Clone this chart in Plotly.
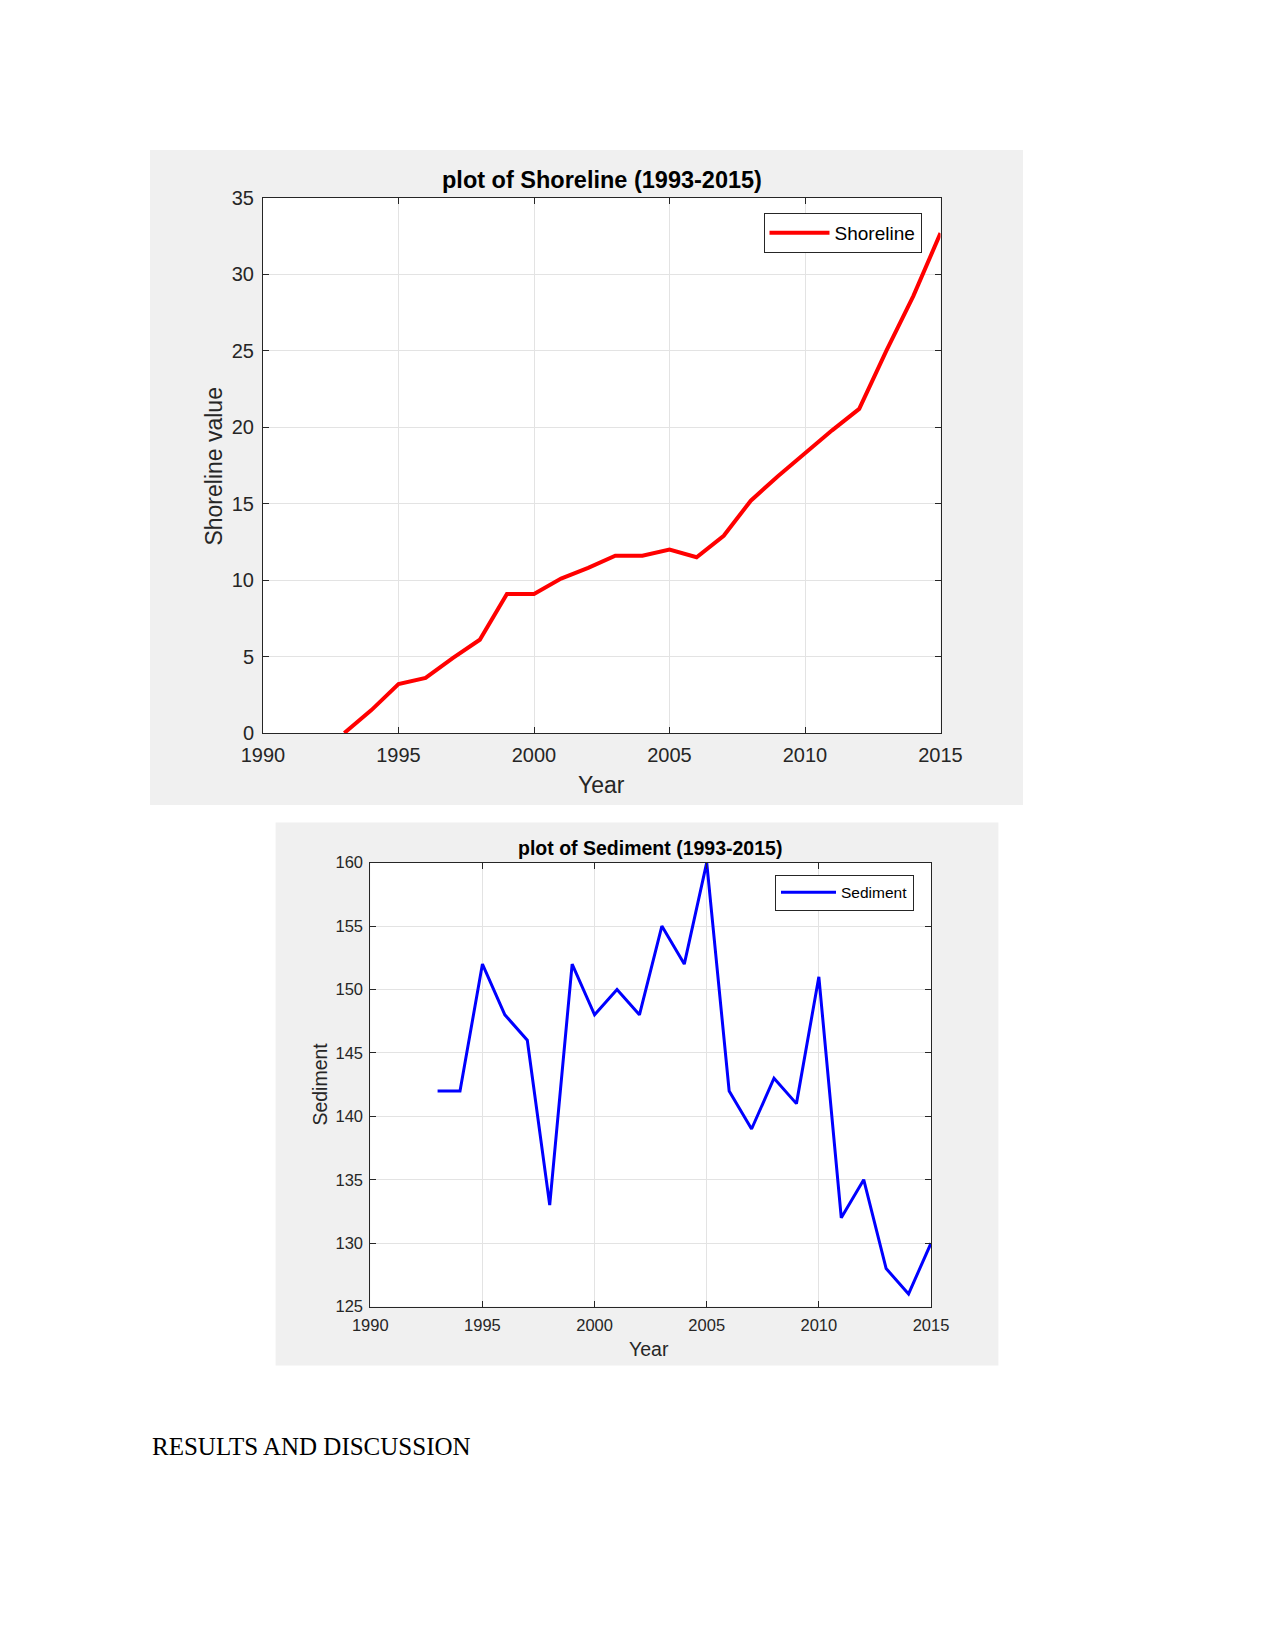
import plotly.graph_objects as go

years = list(range(1993, 2016))
shoreline = [0, 1.5, 3.2, 3.6, 4.9, 6.1, 9.1, 9.1, 10.1, 10.8, 11.6, 11.6, 12.0,
             11.5, 12.9, 15.2, 16.8, 18.3, 19.8, 21.2, 25.0, 28.6, 32.7]
sediment = [142, 142, 152, 148, 146, 133, 152, 148, 150, 148, 155, 152, 160,
            142, 139, 143, 141, 151, 132, 135, 128, 126, 130]

W, H = 1275, 1650
OFF = 8  # page body margin
FONT = "Liberation Sans"
TXT = "#262626"


def px(x):
    return (x - OFF) / W


def py(y):
    return 1 - (y - OFF) / H


fig = go.Figure()
fig.add_trace(go.Scatter(x=years, y=shoreline, mode="lines", name="Shoreline",
                         line=dict(color="#ff0000", width=4), xaxis="x", yaxis="y",
                         legend="legend"))
fig.add_trace(go.Scatter(x=years, y=sediment, mode="lines", name="Sediment",
                         line=dict(color="#0000ff", width=3), xaxis="x2", yaxis="y2",
                         legend="legend2"))

common = dict(showline=True, mirror="ticks", linecolor=TXT, linewidth=1,
              ticks="inside", ticklen=6, tickcolor=TXT, showgrid=True,
              gridcolor="#e3e3e3", gridwidth=1, zeroline=False, automargin=False)

fig.update_layout(
    width=W, height=H, margin=dict(l=0, r=0, t=0, b=0, autoexpand=False),
    paper_bgcolor="white", plot_bgcolor="white", showlegend=True,
    xaxis=dict(domain=[px(263), px(940.5)], range=[1990, 2015], dtick=5, anchor="y",
               tickfont=dict(family=FONT, size=20, color=TXT), ticklabelstandoff=4, **common),
    yaxis=dict(domain=[py(733), py(198)], range=[0, 35], dtick=5, anchor="x",
               tickfont=dict(family=FONT, size=20, color=TXT), ticklabelstandoff=4, **common),
    xaxis2=dict(domain=[px(370.3), px(931)], range=[1990, 2015], dtick=5, anchor="y2",
                tickfont=dict(family=FONT, size=16.5, color=TXT), ticklabelstandoff=4, **common),
    yaxis2=dict(domain=[py(1306.6), py(862.6)], range=[125, 160], dtick=5, anchor="x2",
                tickfont=dict(family=FONT, size=16.5, color=TXT), ticklabelstandoff=3, **common),
    legend=dict(x=px(921.5), y=py(233), xanchor="right", yanchor="middle",
                bgcolor="white", bordercolor=TXT, borderwidth=1, itemwidth=60,
                font=dict(family=FONT, size=19, color="black")),
    legend2=dict(x=px(914), y=py(892.6), xanchor="right", yanchor="middle",
                 bgcolor="white", bordercolor=TXT, borderwidth=1, itemwidth=55,
                 font=dict(family=FONT, size=15.5, color="black")),
)

# Gray figure panels, then white axes backgrounds on top of them
panels = [((150, 1023), (150, 805), "#f0f0f0"),
          ((275.6, 998.4), (822.6, 1365.5), "#f0f0f0"),
          ((263, 940.5), (198, 733), "white"),
          ((370.3, 931), (862.6, 1306.6), "white")]
for (xa, xb), (ya, yb), col in panels:
    fig.add_shape(type="rect", xref="paper", yref="paper", x0=px(xa), x1=px(xb),
                  y0=py(yb), y1=py(ya), fillcolor=col, line=dict(width=0), layer="below")

ann = [
    dict(text="<b>plot of Shoreline (1993-2015)</b>", x=px(602), y=py(180), size=23.5, color="black"),
    dict(text="Year", x=px(601), y=py(785), size=23, color=TXT),
    dict(text="Shoreline value", x=px(213.6), y=py(466), size=23, color=TXT, angle=-90),
    dict(text="<b>plot of Sediment (1993-2015)</b>", x=px(650), y=py(848), size=19.5, color="black"),
    dict(text="Year", x=px(649), y=py(1348.6), size=19.5, color=TXT),
    dict(text="Sediment", x=px(320), y=py(1084.6), size=19.5, color=TXT, angle=-90),
]
for a in ann:
    fig.add_annotation(text=a["text"], x=a["x"], y=a["y"], xref="paper", yref="paper",
                       xanchor="center", yanchor="middle", showarrow=False,
                       textangle=a.get("angle", 0),
                       font=dict(family=FONT, size=a["size"], color=a["color"]))

fig.add_annotation(text="RESULTS AND DISCUSSION", x=px(150), y=py(1446.5), xref="paper",
                   yref="paper", xanchor="left", yanchor="middle", showarrow=False,
                   font=dict(family="Liberation Serif", size=25, color="black"))

fig.write_html("out.html")
